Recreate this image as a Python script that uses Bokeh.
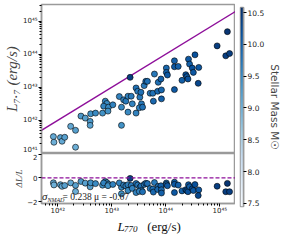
import numpy as np
from bokeh.plotting import figure
from bokeh.layouts import row, column
from bokeh.models import (LinearColorMapper, ColumnDataSource, Range1d, FixedTicker,
                          CustomJSTickFormatter, Label, Span, PrintfTickFormatter)
from bokeh.palettes import Blues256
from bokeh.embed import file_html
from bokeh.resources import INLINE

# ---- data (log10 luminosities) ----
log_L770 = [41.92, 41.93, 42.05, 42.08, 42.13, 42.24, 42.33, 42.33, 42.43, 42.51,
            42.60, 42.60, 42.61, 42.70, 42.83, 42.88, 42.91, 42.85, 42.94, 42.93,
            43.02, 43.18, 43.14, 43.18, 43.22, 43.26, 43.30, 43.36, 43.30, 43.38,
            43.34, 43.45, 43.48, 43.45, 43.52, 43.54, 43.55, 43.51, 43.57, 43.60,
            43.63, 43.66, 43.71, 43.76, 43.77, 43.79, 43.86, 43.85, 43.91, 43.92,
            43.92, 44.01, 44.01, 44.03, 44.16, 44.16, 44.23, 44.16, 44.30, 44.37,
            44.39, 44.41, 44.42, 44.44, 44.49, 44.51, 44.54, 44.61, 44.60, 44.95,
            45.14, 45.11, 45.18]
log_L77 = [41.51, 41.34, 41.48, 41.37, 41.49, 41.82, 41.70, 41.19, 42.13, 42.07,
           41.97, 41.85, 42.20, 42.22, 42.22, 42.58, 42.51, 42.43, 42.40, 42.28,
           42.47, 42.40, 42.72, 41.85, 42.62, 42.58, 42.73, 42.73, 42.25, 42.50,
           43.30, 42.98, 42.88, 42.22, 42.70, 42.85, 42.50, 42.38, 42.40, 43.05,
           43.18, 43.18, 42.82, 42.82, 42.58, 43.40, 43.15, 42.88, 43.25, 42.92,
           42.65, 43.58, 43.45, 43.37, 43.80, 43.62, 43.63, 42.93, 43.21, 43.38,
           43.32, 43.25, 43.85, 43.70, 43.58, 43.45, 43.98, 43.60, 43.12, 44.25,
           44.68, 43.95, 44.02]
stellar_mass = [9.1, 9.0, 9.2, 9.1, 9.2, 9.1, 9.2, 9.0, 9.3, 9.2,
                9.3, 9.2, 9.4, 9.5, 9.4, 9.6, 9.5, 9.6, 9.5, 9.4,
                9.6, 9.5, 9.6, 9.4, 9.6, 9.7, 9.6, 9.7, 9.5, 9.6,
                10.4, 9.8, 9.7, 9.6, 9.7, 9.8, 9.7, 9.6, 9.8, 9.7,
                9.9, 9.8, 9.7, 9.8, 9.9, 9.7, 9.8, 9.9, 10.0, 9.9,
                10.0, 9.9, 10.0, 10.1, 10.0, 10.1, 10.0, 10.1, 10.0, 10.2,
                10.1, 10.2, 10.1, 10.0, 10.2, 10.1, 10.2, 10.1, 10.3, 10.4,
                10.5, 10.4, 10.4]
one_to_one = [1e40, 1e47]
y_ticks_top = [1e41, 1e42, 1e43, 1e44, 1e45]
x_ticks = [1e42, 1e43, 1e44, 1e45]
resid_ticks = [-2, 0, 2]
mass_ticks = [7.5, 8.0, 8.5, 9.0, 9.5, 10.0, 10.5]
mass_low, mass_high = 7.45, 10.58
stats_text = "= 0.238  μ = -0.67"

lx = np.array(log_L770)
ly = np.array(log_L77)
src = ColumnDataSource(dict(L770=10 ** lx, L77=10 ** ly, resid=ly - lx, mass=stellar_mass))

mapper = LinearColorMapper(palette=list(reversed(Blues256)), low=mass_low, high=mass_high)
PURPLE = "#8e0f9a"
FRAME = "#9a9a9a"
TICKFONT = "DejaVu Sans"
SERIF = "Liberation Serif"

sup_fmt = CustomJSTickFormatter(code="""
const sup = {"0":"\u2070","1":"\u00b9","2":"\u00b2","3":"\u00b3","4":"\u2074","5":"\u2075",
             "6":"\u2076","7":"\u2077","8":"\u2078","9":"\u2079","-":"\u207b"};
const e = Math.round(Math.log10(tick));
return "10" + String(e).split("").map(c => sup[c]).join("");
""")

xr = Range1d(10 ** 41.70, 10 ** 45.29)
log_minor = [k * 10.0 ** e for e in range(40, 46) for k in range(2, 10)]


def style(p):
    p.outline_line_color = FRAME
    p.outline_line_width = 1.5
    p.xgrid.visible = False
    p.ygrid.visible = False
    p.background_fill_color = "white"
    p.border_fill_color = "white"
    for ax in p.axis:
        ax.axis_line_color = FRAME
        ax.axis_line_width = 1.5
        ax.major_tick_out = 3
        ax.major_tick_in = 0
        ax.minor_tick_out = 2
        ax.minor_tick_in = 0
        ax.major_label_text_font = TICKFONT
        ax.major_label_text_font_size = "7px"
        ax.major_label_text_color = "#222222"
        ax.major_label_standoff = 1
        ax.axis_label_standoff = 0


LEFT = 35
W = 235

# ---- top panel ----
p1 = figure(width=W, height=153, x_axis_type="log", y_axis_type="log",
            x_range=xr, y_range=Range1d(1e41, 10 ** 45.5),
            output_backend="svg", toolbar_location=None,
            min_border_left=LEFT, min_border_right=0, min_border_top=4, min_border_bottom=0)
style(p1)
p1.xaxis.visible = False
p1.yaxis.ticker = FixedTicker(ticks=y_ticks_top, minor_ticks=log_minor)
p1.yaxis.formatter = sup_fmt
p1.yaxis.axis_label = "L₇.₇ (erg/s)"
p1.yaxis.axis_label_text_font = SERIF
p1.yaxis.axis_label_text_font_style = "italic"
p1.yaxis.axis_label_text_font_size = "15px"
p1.line(x=one_to_one, y=one_to_one, line_color=PURPLE, line_width=1.3)
p1.scatter(x="L770", y="L77", source=src, size=6, line_color="black", line_width=0.6,
           fill_color={"field": "mass", "transform": mapper})

# ---- bottom panel ----
p2 = figure(width=W, height=64, x_axis_type="log",
            x_range=xr, y_range=Range1d(-2.15, 2.05),
            output_backend="svg", toolbar_location=None,
            min_border_left=LEFT, min_border_right=0, min_border_top=0, min_border_bottom=14)
style(p2)
p2.xaxis.ticker = FixedTicker(ticks=x_ticks, minor_ticks=log_minor)
p2.xaxis.formatter = sup_fmt
p2.xaxis.major_label_standoff = 0
p2.yaxis.ticker = FixedTicker(ticks=resid_ticks, minor_ticks=[])
p2.yaxis.major_label_overrides = {-2: "−2", 0: "0", 2: "2"}
p2.yaxis.axis_label = "ΔL/L"
p2.yaxis.axis_label_text_font = SERIF
p2.yaxis.axis_label_text_font_style = "italic"
p2.yaxis.axis_label_text_font_size = "9px"
p2.add_layout(Span(location=0, dimension="width", line_color=PURPLE, line_width=1.3,
                   line_dash="4 2"))
p2.scatter(x="L770", y="resid", source=src, size=6, line_color="black", line_width=0.6,
           fill_color={"field": "mass", "transform": mapper})
p2.add_layout(Label(x=10 ** 41.71, y=-2.02, text="σ", text_font=SERIF,
                    text_font_style="italic", text_font_size="11px", text_color="#222222"))
p2.add_layout(Label(x=10 ** 41.81, y=-2.14, text="NMAD", text_font=SERIF,
                    text_font_style="italic", text_font_size="6px", text_color="#222222"))
p2.add_layout(Label(x=10 ** 42.09, y=-2.02, text=stats_text, text_font=SERIF,
                    text_font_size="9.5px", text_color="#222222"))

# ---- x-axis title strip (pixel coordinates) ----
STRIP_H = 17
p4 = figure(width=W, height=STRIP_H, x_range=Range1d(0, W), y_range=Range1d(0, STRIP_H),
            output_backend="svg", toolbar_location=None, min_border=0)
p4.axis.visible = False
p4.xgrid.visible = False
p4.ygrid.visible = False
p4.outline_line_color = None
p4.add_layout(Label(x=92, y=8.5, text="L", text_font=SERIF, text_font_style="italic",
                    text_font_size="13px", text_baseline="middle", text_color="#111111"))
p4.add_layout(Label(x=100, y=6, text="770", text_font=SERIF, text_font_style="italic",
                    text_font_size="9px", text_baseline="middle", text_color="#111111"))
p4.add_layout(Label(x=128, y=8.5, text="(erg/s)", text_font=SERIF,
                    text_font_size="13px", text_baseline="middle", text_color="#111111"))

# ---- colour bar ----
p3 = figure(width=49, height=234, x_range=Range1d(0, 1),
            y_range=Range1d(mass_low, mass_high), y_axis_location="right",
            output_backend="svg", toolbar_location=None,
            min_border_left=5, min_border_right=38, min_border_top=7, min_border_bottom=28)
style(p3)
p3.xaxis.visible = False
grad = np.linspace(mass_low, mass_high, 256).reshape(-1, 1)
p3.image(image=[grad], x=0, y=mass_low, dw=1, dh=mass_high - mass_low, color_mapper=mapper)
p3.yaxis.ticker = FixedTicker(ticks=mass_ticks, minor_ticks=[])
p3.yaxis.formatter = PrintfTickFormatter(format="%.1f")
p3.yaxis.major_label_text_font_size = "7.5px"
p3.yaxis.major_label_standoff = 1
p3.yaxis.axis_label = "Stellar Mass M☉"
p3.yaxis.axis_label_text_font = TICKFONT
p3.yaxis.axis_label_text_font_style = "normal"
p3.yaxis.axis_label_text_font_size = "10.5px"
p3.yaxis.axis_label_standoff = 2

layout = row(column(p1, p2, p4), p3)
open("out.html", "w").write(file_html(layout, INLINE))
